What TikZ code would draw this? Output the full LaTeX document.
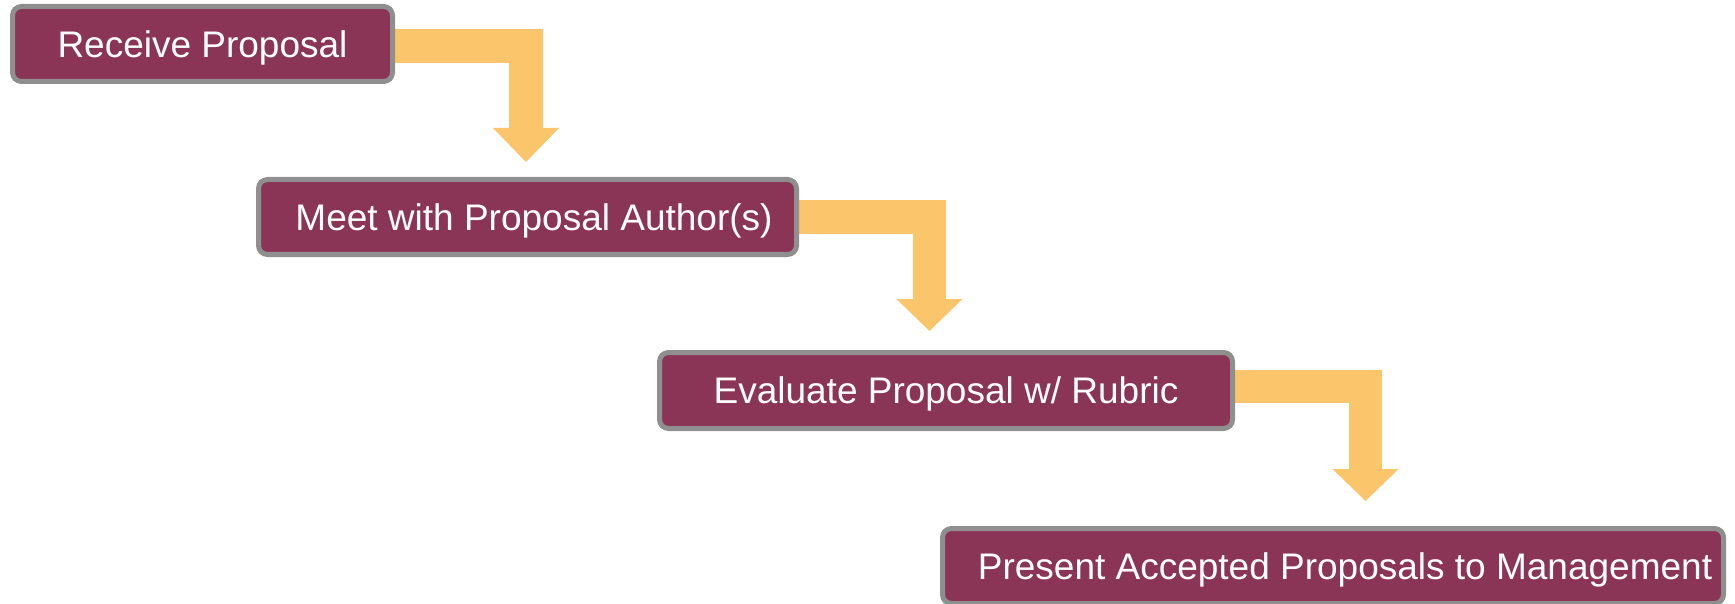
\documentclass[tikz,border=0pt]{standalone}
\usepackage{fontspec}
\setmainfont{Liberation Sans}
\definecolor{maroonfill}{RGB}{139,53,86}
\definecolor{bordergray}{RGB}{143,143,143}
\definecolor{arroworange}{RGB}{251,197,108}
\pgfdeclarelayer{bg}
\pgfsetlayers{bg,main}
\begin{document}
\begin{tikzpicture}[x=1pt,y=-1pt,
  stepbox/.style={draw=bordergray, line width=5pt, fill=maroonfill, rounded corners=9pt,
    text=white, font=\fontsize{37}{44}\selectfont, inner sep=0pt,
    minimum height=75pt, text height=26.5pt, text depth=0pt},
  flow/.style={draw=arroworange, line width=33.5pt, line join=miter},
  headfill/.style={fill=arroworange}]
\useasboundingbox (0,0) rectangle (1735,604);
\node[stepbox, minimum width=380pt] (b1) at (202.5,44) {Receive Proposal};
\node[stepbox, minimum width=538pt] (b2) at (527.5,217) {\hspace*{13pt}Meet with Proposal Author(s)};
\node[stepbox, minimum width=573pt, minimum height=76pt] (b3) at (946,390.5) {Evaluate Proposal w/ Rubric};
\node[stepbox, minimum width=781pt] (b4) at (1333,566) {\hspace*{24pt}Present Accepted Proposals to Management};
\coordinate (h1) at (526,128);   \coordinate (t1) at (526,162);
\coordinate (h2) at (929.5,299); \coordinate (t2) at (929.5,331);
\coordinate (h3) at (1365.5,469);\coordinate (t3) at (1365.5,501);
\begin{pgfonlayer}{bg}
  \draw[flow] ([yshift=-2pt]b1.east) -| (h1);
  \fill[headfill] ([xshift=-33pt]h1) -- ([xshift=33pt]h1) -- (t1) -- cycle;
  \draw[flow] (b2.east) -| (h2);
  \fill[headfill] ([xshift=-33pt]h2) -- ([xshift=33pt]h2) -- (t2) -- cycle;
  \draw[flow] ([yshift=4pt]b3.east) -| (h3);
  \fill[headfill] ([xshift=-33pt]h3) -- ([xshift=33pt]h3) -- (t3) -- cycle;
\end{pgfonlayer}
\end{tikzpicture}
\end{document}
